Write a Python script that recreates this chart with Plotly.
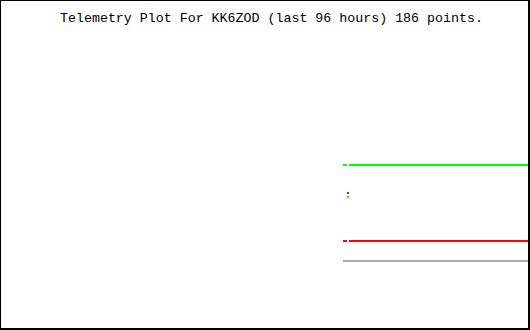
import plotly.graph_objects as go

# Time in hours relative to now (x axis spans the last 96 hours)
seg1_t = [-33.87, -33.15]          # first short run of samples
seg2_t = [-32.79, 0.0]             # main run of samples
gray_t = [-33.87, 0.0]
spike_t = [-32.97]

# Telemetry values (arbitrary units)
green_val = 8.25
red_val = 4.45
gray_val = 3.45
red_spike = [6.85]
green_spike = [6.65]

title_text = "Telemetry Plot For KK6ZOD (last 96 hours) 186 points."

fig = go.Figure()

def seg(t, v, color):
    fig.add_trace(go.Scatter(x=t, y=[v] * len(t), mode="lines",
                             line=dict(color=color, width=2), hoverinfo="skip"))

seg(seg1_t, green_val, "#00ff00")
seg(seg2_t, green_val, "#00ff00")
seg(seg1_t, red_val, "#ff0000")
seg(seg2_t, red_val, "#ff0000")
seg(gray_t, gray_val, "#aaaaaa")

fig.add_trace(go.Scatter(x=spike_t, y=red_spike, mode="markers",
                         marker=dict(symbol="square", size=2, color="#ff0000", line=dict(width=0))))
fig.add_trace(go.Scatter(x=spike_t, y=green_spike, mode="markers",
                         marker=dict(symbol="square", size=2, color="#00ff00", line=dict(width=0))))

border = dict(xref="paper", yref="paper", layer="above")
fig.update_layout(
    width=530, height=330,
    margin=dict(l=0, r=0, t=0, b=0),
    paper_bgcolor="white", plot_bgcolor="white",
    showlegend=False,
    xaxis=dict(range=[-96, 0], visible=False, fixedrange=True),
    yaxis=dict(range=[0, 16.5], visible=False, fixedrange=True),
    shapes=[
        dict(type="line", x0=0, x1=0, y0=0, y1=1, line=dict(color="black", width=2), **border),
        dict(type="line", x0=1, x1=1, y0=0, y1=1, line=dict(color="black", width=4), **border),
        dict(type="line", x0=0, x1=1, y0=0, y1=0, line=dict(color="black", width=4), **border),
        dict(type="line", x0=0, x1=1, y0=1, y1=1, line=dict(color="black", width=2), **border),
    ],
    annotations=[dict(text=title_text, xref="paper", yref="paper",
                      x=271.5 / 530, y=1 - 18 / 330, xanchor="center", yanchor="middle",
                      showarrow=False,
                      font=dict(family="Liberation Mono", size=13.3, color="black"))],
)

fig.write_html("out.html", config={"displayModeBar": False})
